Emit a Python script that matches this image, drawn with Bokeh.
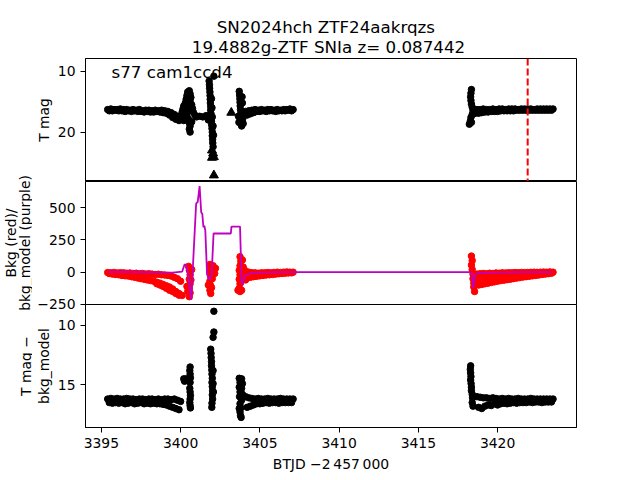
from bokeh.plotting import figure
from bokeh.layouts import column, row
from bokeh.models import Range1d, FixedTicker, Span, Label
from bokeh.core.properties import value
from bokeh.embed import file_html
from bokeh.resources import INLINE

# ---------------- data ----------------
title_1 = "SN2024hch  ZTF24aakrqzs"
title_2 = "19.4882g-ZTF SNIa z= 0.087442"
sector_text = "s77 cam1ccd4"
x_label = "BTJD \u22122\u2009457\u2009000"
top_y_label = "T mag"
mid_y_label_1 = "Bkg (red)/"
mid_y_label_2 = "bkg_model (purple)"
bot_y_label_1 = "T mag \u2212"
bot_y_label_2 = "bkg_model"
peak_line_t = 3421.9

x_ticks = [3395, 3400, 3405, 3410, 3415, 3420]
top_ticks = [10, 20]
mid_ticks = [-250, 0, 250, 500]
bot_ticks = [10, 15]

# time grids of the dense bands
t_seg1 = [3395.4, 3395.6, 3395.8, 3396.0, 3396.2, 3396.4, 3396.6, 3396.8, 3397.0, 3397.2, 3397.4, 3397.6,
          3397.8, 3398.0, 3398.2, 3398.4, 3398.6, 3398.8, 3399.0, 3399.2, 3399.4, 3399.6, 3399.8, 3400.0]
t_seg1b = [3395.5, 3395.7, 3395.9, 3396.1, 3396.3, 3396.5, 3396.7, 3396.9, 3397.1, 3397.3, 3397.5, 3397.7,
           3397.9, 3398.1, 3398.3, 3398.5, 3398.7, 3398.9, 3399.1, 3399.3, 3399.5, 3399.7, 3399.9]
t_seg2 = [3404.1, 3404.3, 3404.5, 3404.7, 3404.9, 3405.1, 3405.3, 3405.5, 3405.7, 3405.9, 3406.1, 3406.3,
          3406.5, 3406.7, 3406.9, 3407.1]
t_seg2b = [3404.2, 3404.4, 3404.6, 3404.8, 3405.0, 3405.2, 3405.4, 3405.6, 3405.8, 3406.0, 3406.2, 3406.4,
           3406.6, 3406.8, 3407.0]
t_seg3 = [3418.7, 3418.9, 3419.1, 3419.3, 3419.5, 3419.7, 3419.9, 3420.1, 3420.3, 3420.5, 3420.7, 3420.9,
          3421.1, 3421.3, 3421.5, 3421.7, 3421.9, 3422.1, 3422.3, 3422.5, 3422.7, 3422.9, 3423.1, 3423.3, 3423.5]
t_seg3b = [3418.8, 3419.0, 3419.2, 3419.4, 3419.6, 3419.8, 3420.0, 3420.2, 3420.4, 3420.6, 3420.8, 3421.0,
           3421.2, 3421.4, 3421.6, 3421.8, 3422.0, 3422.2, 3422.4, 3422.6, 3422.8, 3423.0, 3423.2, 3423.4]

# ---- top panel: T mag ----
top_seg1 = [16.3, 16.2, 16.3, 16.3, 16.2, 16.3, 16.3, 16.4, 16.3, 16.4, 16.3, 16.5, 16.4, 16.4, 16.5, 16.4,
            16.5, 16.4, 16.5, 16.6, 16.8, 17.1, 17.4, 17.7]
top_seg1b = [16.5, 16.5, 16.4, 16.5, 16.5, 16.6, 16.5, 16.6, 16.5, 16.6, 16.6, 16.7, 16.6, 16.7, 16.7, 16.6,
             16.7, 16.8, 16.9, 17.2, 17.6, 17.9, 18.1]
top_seg2 = [16.6, 16.5, 16.4, 16.3, 16.4, 16.3, 16.4, 16.3, 16.3, 16.4, 16.3, 16.4, 16.3, 16.3, 16.2, 16.3]
top_seg2b = [17.2, 17.0, 16.8, 16.6, 16.6, 16.5, 16.6, 16.5, 16.5, 16.6, 16.5, 16.5, 16.5, 16.4, 16.5]
top_seg3 = [16.3, 16.3, 16.2, 16.3, 16.3, 16.2, 16.3, 16.2, 16.2, 16.3, 16.2, 16.2, 16.2, 16.3, 16.2, 16.2,
            16.2, 16.2, 16.3, 16.2, 16.2, 16.2, 16.2, 16.2, 16.2]
top_seg3b = [16.9, 16.8, 16.7, 16.7, 16.6, 16.6, 16.6, 16.5, 16.5, 16.5, 16.5, 16.5, 16.4, 16.4, 16.4, 16.4,
             16.4, 16.4, 16.4, 16.4, 16.4, 16.4, 16.4, 16.4]
top_col_t = [3400.05, 3400.1, 3400.15, 3400.2, 3400.3, 3400.35, 3400.4, 3400.45, 3400.55, 3400.6, 3400.65,
             3400.6, 3400.7, 3400.75, 3400.8, 3400.9, 3401.0, 3400.5, 3400.45, 3400.4, 3400.5, 3400.55,
             3400.6, 3400.55, 3400.6, 3400.7, 3400.3, 3400.2, 3401.2, 3401.4, 3401.6,
             3402.1, 3401.8, 3401.82, 3401.83, 3401.85, 3401.86, 3401.87, 3401.88, 3401.9, 3401.9, 3401.92,
             3401.93, 3401.95, 3401.96, 3401.98, 3402.0, 3402.0, 3402.02, 3402.03, 3402.05, 3401.95, 3401.98,
             3402.0, 3401.78, 3401.75, 3402.05, 3402.08,
             3403.7, 3403.72, 3403.74, 3403.75, 3403.76, 3403.78, 3403.8, 3403.78, 3403.75, 3403.8, 3403.85,
             3403.95, 3403.92, 3403.95, 3403.65, 3403.68, 3403.9, 3403.88,
             3418.35, 3418.32, 3418.3, 3418.32, 3418.35, 3418.4, 3418.45, 3418.4, 3418.32, 3418.28, 3418.22,
             3418.35, 3418.5, 3418.55]
top_col_mag = [17.2, 16.7, 16.2, 15.7, 15.2, 14.6, 14.0, 13.4, 13.2, 13.7, 14.3,
               14.9, 15.5, 16.1, 16.7, 17.2, 17.5, 15.8, 16.6, 17.3, 17.9, 18.5,
               19.0, 19.5, 20.0, 18.3, 17.8, 18.1, 17.4, 17.5, 17.3,
               10.8, 11.6, 12.2, 12.8, 13.4, 14.0, 14.6, 15.2, 15.8, 16.4, 17.0,
               17.6, 18.2, 18.8, 19.4, 20.0, 20.6, 21.2, 21.8, 22.4, 14.5, 16.0,
               17.5, 17.3, 18.0, 19.0, 20.5,
               13.3, 13.9, 14.5, 15.1, 15.7, 16.3, 16.9, 17.5, 18.1, 18.6, 19.0,
               18.6, 17.8, 17.0, 17.4, 18.4, 15.2, 14.2,
               13.0, 13.6, 14.2, 14.8, 15.4, 15.9, 16.5, 17.1, 17.6, 18.2, 18.7,
               18.4, 17.0, 16.9]
lim_t = [3401.98, 3402.05, 3402.1, 3401.98, 3402.1, 3403.2]
lim_mag = [23.0, 23.5, 24.1, 24.2, 27.1, 16.8]

# ---- middle panel: background (red) and background model (purple) ----
red_seg1_a = [-3, -5, -2, -6, -4, -5, -8, -6, -10, -8, -12, -10, -14, -12, -15, -18, -16, -20, -22, -25,
              -30, -40, -50, -70]
red_seg1_b = [-10, -15, -18, -20, -25, -28, -30, -35, -40, -45, -50, -55, -60, -65, -70, -78, -85, -95,
              -105, -115, -130, -150, -165]
red_seg1c_t = [3398.5, 3398.7, 3398.9, 3399.1, 3399.3, 3399.5, 3399.7, 3399.9, 3400.1]
red_seg1c_v = [-90, -100, -110, -125, -140, -150, -165, -178, -180]
red_seg2_a = [10, 0, -5, -5, -8, -5, -5, -3, -5, -2, 0, -2, 0, 2, 0, 0]
red_seg2_b = [-45, -40, -35, -32, -28, -25, -22, -20, -18, -15, -12, -10, -8, -6, -5]
red_seg3_a = [-15, -12, -10, -12, -8, -10, -6, -8, -5, -6, -4, -5, -3, -4, -2, -3, -2, -1, 0, -1, 0, 1,
              0, 2, 0]
red_seg3_b = [-100, -95, -90, -85, -80, -75, -70, -65, -62, -58, -55, -50, -46, -42, -38, -35, -32, -28,
              -25, -22, -18, -15, -12, -8]
red_seg3c_t = [3418.8, 3419.2, 3419.6, 3420.0, 3420.4, 3420.8]
red_seg3c_v = [-55, -50, -45, -40, -35, -30]
red_col_t = [3400.5, 3400.55, 3400.6, 3400.55, 3400.6, 3400.55, 3400.6, 3400.55, 3400.45, 3400.4,
             3400.7, 3400.65,
             3401.85, 3401.9, 3401.85, 3401.9, 3401.85, 3401.9, 3401.85, 3401.9, 3402.05, 3402.1, 3402.15,
             3402.0, 3401.95, 3402.2, 3401.75,
             3403.75, 3403.8, 3403.75, 3403.7, 3403.75, 3403.7, 3403.75, 3403.7, 3403.75, 3403.9, 3403.95,
             3403.85, 3404.0, 3403.62, 3403.85, 3404.1,
             3418.35, 3418.4, 3418.35, 3418.4, 3418.45, 3418.45, 3418.5, 3418.5, 3418.55, 3418.6]
red_col_v = [45, 15, -20, -55, -90, -125, -160, -190, -150, -110,
             20, -60,
             60, 30, 0, -35, -70, -105, -140, -165, 50, 20, -10,
             -50, -120, 30, -100,
             120, 85, 50, 15, -20, -55, -90, -125, -150, 95, 40,
             -40, -30, -140, -140, -60,
             125, 90, 55, 20, -15, -50, -85, -115, -150, -60]
model_t = [3395.4, 3396.5, 3397.5, 3398.5, 3399.5, 3400.1, 3400.25, 3400.35, 3400.45, 3400.67, 3400.98,
           3401.08, 3401.2, 3401.3, 3401.37, 3401.44, 3401.5, 3401.56, 3401.67, 3401.81, 3401.96, 3402.08,
           3402.6, 3403.17, 3403.21, 3403.75, 3403.85, 3403.92, 3404.04, 3404.3, 3404.8, 3405.5, 3406.5,
           3407.1, 3418.35, 3418.42, 3418.47, 3418.55, 3418.7, 3419.5, 3420.5, 3421.5, 3422.5, 3423.5]
model_v = [3, 2, 0, -2, -3, 5, 60, 55, 0, -214, 531, 545, 667, 465, 452, 348, 360, 322, -18, -57, -18,
           300, 300, 300, 353, 353, -70, -97, -31, -12, -3, -2, 0, 0, 0, -60, -125, -30, -8, -3, -2, 0,
           0, 0]

# ---- bottom panel: T mag - bkg_model ----
bot_seg1_a = [16.2, 16.15, 16.2, 16.15, 16.2, 16.2, 16.15, 16.2, 16.2, 16.25, 16.2, 16.2, 16.25, 16.2,
              16.2, 16.25, 16.2, 16.25, 16.2, 16.2, 16.25, 16.2, 16.3, 16.4]
bot_seg1_b = [16.5, 16.55, 16.5, 16.55, 16.5, 16.6, 16.55, 16.5, 16.6, 16.55, 16.5, 16.6, 16.55, 16.6,
              16.55, 16.6, 16.6, 16.65, 16.7, 16.8, 16.9, 17.0, 17.1]
bot_seg2_a = [16.0, 16.1, 16.15, 16.2, 16.15, 16.2, 16.2, 16.15, 16.2, 16.2, 16.2, 16.15, 16.2, 16.2,
              16.2, 16.2]
bot_seg2_b = [16.9, 16.8, 16.7, 16.6, 16.6, 16.55, 16.5, 16.55, 16.5, 16.5, 16.55, 16.5, 16.5, 16.5, 16.5]
bot_seg3_a = [16.0, 16.05, 16.1, 16.1, 16.15, 16.1, 16.15, 16.2, 16.15, 16.2, 16.15, 16.2, 16.2, 16.15,
              16.2, 16.2, 16.2, 16.15, 16.2, 16.2, 16.2, 16.2, 16.2, 16.2, 16.2]
bot_seg3_b = [16.9, 17.0, 16.8, 16.7, 16.75, 16.6, 16.7, 16.6, 16.55, 16.6, 16.55, 16.5, 16.55, 16.5,
              16.5, 16.5, 16.45, 16.5, 16.45, 16.45, 16.5, 16.45, 16.45, 16.45]
bot_col_t = [3400.2, 3400.3, 3400.25, 3400.35,
             3400.6, 3400.58, 3400.6, 3400.62, 3400.6, 3400.58, 3400.6, 3400.62, 3400.6, 3400.58, 3400.6,
             3400.62,
             3402.1, 3402.1, 3402.05, 3401.9, 3401.92, 3401.93, 3401.95, 3401.95, 3401.97, 3401.98, 3402.0,
             3401.98, 3402.0, 3402.02, 3402.0, 3402.02, 3401.98, 3401.97, 3402.05, 3402.05, 3402.07,
             3403.7, 3403.85, 3403.75, 3403.9, 3403.7, 3403.85, 3403.75, 3403.9, 3403.72, 3403.85, 3403.75,
             3403.8, 3403.75, 3403.78, 3403.82, 3403.7,
             3418.3, 3418.28, 3418.3, 3418.32, 3418.3, 3418.33, 3418.35, 3418.35, 3418.4, 3418.42, 3418.4,
             3418.45]
bot_col_mag = [14.5, 14.6, 14.7, 14.5,
               13.5, 13.8, 14.1, 14.4, 14.8, 15.3, 15.6, 15.9, 16.2, 16.5, 16.75, 16.95,
               8.8, 10.55, 11.0, 12.0, 12.35, 12.7, 13.05, 13.4, 13.75, 14.1, 14.45,
               14.8, 15.15, 15.5, 15.85, 16.2, 16.55, 16.9, 13.8, 14.9, 15.6,
               14.45, 14.5, 14.8, 14.9, 15.2, 15.3, 15.6, 15.8, 16.0, 16.3, 16.6,
               16.95, 17.3, 17.6, 17.75, 17.0,
               13.4, 13.7, 14.0, 14.3, 14.6, 14.9, 15.2, 15.5, 15.8, 16.1, 16.5,
               16.8]

# ---------------- figure ----------------
FONT = "DejaVu Sans"
TICK_FS = "13.9px"
FULL_W = 640
STRIP_W = 32            # narrow strip on the far left that carries the outer y-label lines
W, LEFT, RIGHT = FULL_W - STRIP_W, 48, 64
FRAME_H = 123
TOP_B, BOT_B = 58, 53
SEAM = 8                # extra canvas below the middle frame so its lowest tick label is not cut
xr = Range1d(3394.0, 3424.98)


def make_panel(y_range, ticks, bottom=0, overrides=None):
    p = figure(width=W, height=FRAME_H + bottom, x_range=xr, y_range=Range1d(*y_range),
               output_backend="svg", toolbar_location=None,
               min_border_left=LEFT, min_border_right=RIGHT,
               min_border_top=0, min_border_bottom=bottom)
    p.grid.visible = False
    p.outline_line_color = "black"
    p.outline_line_alpha = 1.0
    p.outline_line_width = 1
    p.background_fill_color = "white"
    p.border_fill_color = "white"
    for ax in p.axis:
        ax.axis_line_color = "black"
        ax.major_tick_line_color = "black"
        ax.major_tick_out = 5
        ax.major_tick_in = 0
        ax.minor_tick_line_color = None
        ax.major_label_text_font = FONT
        ax.major_label_text_font_size = TICK_FS
        ax.major_label_text_color = "black"
        ax.major_label_standoff = 5
        ax.axis_label_text_font = FONT
        ax.axis_label_text_font_size = TICK_FS
        ax.axis_label_text_font_style = "normal"
        ax.axis_label_text_color = "black"
        ax.axis_label_standoff = 3
    p.yaxis.ticker = FixedTicker(ticks=ticks)
    if overrides:
        p.yaxis.major_label_overrides = overrides
    p.xaxis.ticker = FixedTicker(ticks=x_ticks)
    return p


def text_strip(width, height):
    s = figure(width=width, height=height, x_range=Range1d(0, width), y_range=Range1d(0, height),
               output_backend="svg", toolbar_location=None, min_border=0)
    s.axis.visible = False
    s.grid.visible = False
    s.outline_line_color = None
    s.background_fill_color = "white"
    s.border_fill_color = "white"
    return s


# title strip (page pixels, y measured upward from the strip bottom)
tstrip = text_strip(FULL_W, TOP_B)
tstrip.text(x=[328, 328], y=[TOP_B - 26.5, TOP_B - 46.5], text=[title_1, title_2],
            text_align="center", text_baseline="alphabetic",
            text_font=value(FONT), text_font_size="16.7px", text_color="black")

# top panel
p1 = make_panel((28.12, 7.9), top_ticks)
p1.xaxis.visible = False
p1.yaxis.axis_label = top_y_label
p1.scatter(t_seg1 + t_seg1b + t_seg2 + t_seg2b + t_seg3 + t_seg3b + top_col_t,
           top_seg1 + top_seg1b + top_seg2 + top_seg2b + top_seg3 + top_seg3b + top_col_mag,
           size=6.5, color="black")
p1.scatter(lim_t, lim_mag, marker="triangle", size=9, color="black")
p1.add_layout(Span(location=peak_line_t, dimension="height", line_color="red", line_width=2,
                   line_dash="7 3"))
p1.add_layout(Label(x=26, y=110, x_units="screen", y_units="screen", text=sector_text,
                    text_font=FONT, text_font_size="16.7px", text_color="black",
                    text_baseline="alphabetic"))

# middle panel (its canvas reaches SEAM px below the frame; the lower panel overlaps that strip)
p2 = make_panel((-250.5, 703), mid_ticks, bottom=SEAM, overrides={-250: "\u2212250"})
p2.xaxis.visible = False
p2.scatter(t_seg1 + t_seg1b + red_seg1c_t + t_seg2 + t_seg2b + t_seg3 + t_seg3b + red_seg3c_t + red_col_t,
           red_seg1_a + red_seg1_b + red_seg1c_v + red_seg2_a + red_seg2_b + red_seg3_a + red_seg3_b
           + red_seg3c_v + red_col_v,
           size=6.5, color="#ff0000")
p2.line(model_t, model_v, line_color="#bf00bf", line_width=1.8)

# bottom panel
p3 = make_panel((18.6, 8.23), bot_ticks, bottom=BOT_B)
p3.margin = (-SEAM, 0, 0, 0)
p3.border_fill_alpha = 0.0
p3.xaxis.axis_label = x_label
p3.xaxis.axis_label_standoff = 5
p3.yaxis.axis_label = bot_y_label_2
p3.scatter(t_seg1 + t_seg1b + t_seg2 + t_seg2b + t_seg3 + t_seg3b + bot_col_t,
           bot_seg1_a + bot_seg1_b + bot_seg2_a + bot_seg2_b + bot_seg3_a + bot_seg3_b + bot_col_mag,
           size=6.5, color="black")

# left strip: outer lines of the two-line y labels
H_LOW = 3 * FRAME_H + BOT_B
lstrip = text_strip(STRIP_W, H_LOW)
mid_c = H_LOW - 1.5 * FRAME_H
bot_c = H_LOW - 2.5 * FRAME_H
lstrip.text(x=[10.5, 24, 25], y=[mid_c, mid_c, bot_c],
            text=[mid_y_label_1, mid_y_label_2, bot_y_label_1],
            angle=90, angle_units="deg", text_align="center", text_baseline="alphabetic",
            text_font=value(FONT), text_font_size=TICK_FS, text_color="black")

layout = column(tstrip, row(lstrip, column(p1, p2, p3, spacing=0), spacing=0), spacing=0)
open("out.html", "w").write(file_html(layout, INLINE))
